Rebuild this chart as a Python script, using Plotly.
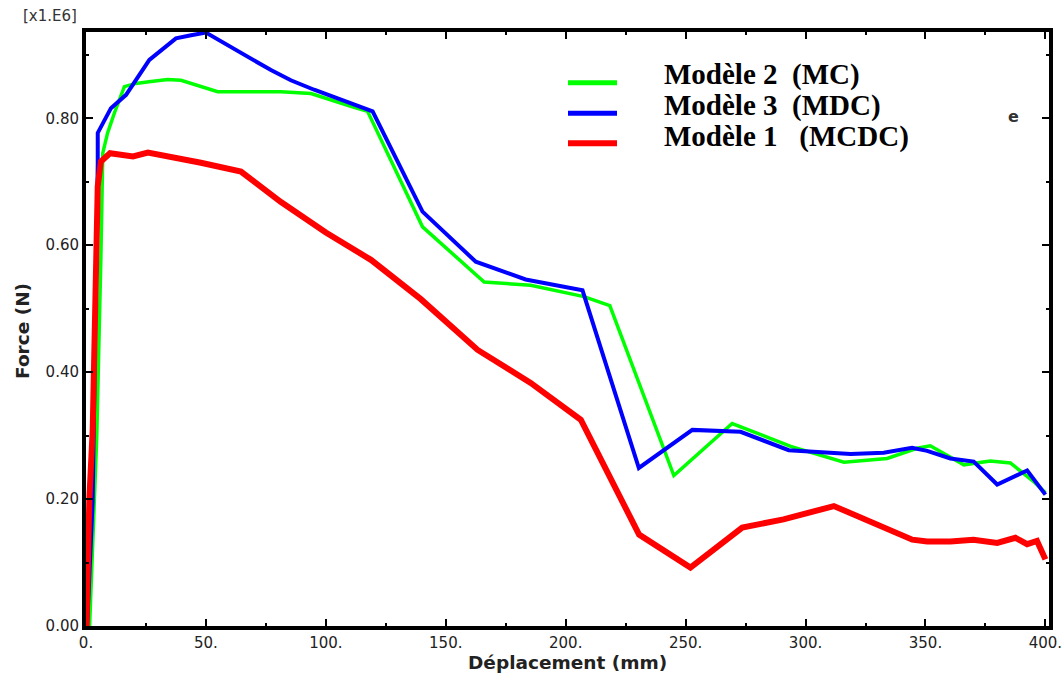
import plotly.graph_objects as go

# Force-displacement curves (force in units of 1e6 N)
green_name = "Modèle 2  (MC)"
green_x = [1.5, 4.5, 6.2, 7.0, 9.0, 11.8, 16.0, 20.8, 27.1, 34.0, 39.6, 54.9, 81.3, 93.8,
           110.4, 117.4, 140.3, 147.2, 166.0, 185.4, 207.6, 218.4, 245.1, 269.4, 293.8,
           316.0, 334.0, 346.5, 352.0, 366.0, 377.0, 385.4, 395.0, 400.0]
green_y = [0.0, 0.3, 0.58, 0.745, 0.777, 0.808, 0.85, 0.855, 0.858, 0.861, 0.86, 0.842, 0.842,
           0.839, 0.819, 0.811, 0.629, 0.606, 0.542, 0.537, 0.519, 0.505, 0.237, 0.319, 0.283,
           0.258, 0.264, 0.28, 0.284, 0.254, 0.26, 0.257, 0.228, 0.21]

blue_name = "Modèle 3  (MDC)"
blue_x = [0.5, 2.8, 4.9, 4.9, 10.4, 16.7, 26.4, 37.5, 43.8, 50.0, 77.1, 85.4, 95.1, 110.4,
          119.5, 140.3, 150.0, 162.5, 183.3, 207.0, 230.5, 252.8, 272.9, 293.0, 318.8, 332.6,
          344.4, 350.7, 360.4, 370.1, 379.9, 392.4, 400.0]
blue_y = [0.0, 0.2, 0.73, 0.777, 0.816, 0.837, 0.892, 0.926, 0.931, 0.935, 0.876, 0.86, 0.845,
          0.823, 0.811, 0.653, 0.619, 0.574, 0.546, 0.529, 0.249, 0.309, 0.306, 0.277, 0.271,
          0.273, 0.281, 0.276, 0.264, 0.259, 0.223, 0.245, 0.207]

red_name = "Modèle 1   (MCDC)"
red_x = [0.2, 1.4, 2.8, 3.5, 4.2, 4.4, 4.9, 6.2, 10.0, 19.6, 25.8, 47.9, 64.6, 81.3, 100.0,
         118.8, 139.6, 163.3, 185.4, 206.3, 230.6, 252.0, 273.6, 290.8, 311.8, 344.5, 350.7,
         360.4, 370.0, 379.9, 387.5, 392.4, 396.5, 400.0]
red_y = [0.0, 0.2, 0.31, 0.42, 0.52, 0.61, 0.693, 0.732, 0.745, 0.74, 0.746, 0.73, 0.716, 0.668,
         0.62, 0.577, 0.515, 0.435, 0.383, 0.325, 0.144, 0.092, 0.155, 0.168, 0.189, 0.136,
         0.133, 0.133, 0.136, 0.131, 0.139, 0.129, 0.134, 0.105]

x_ticks = [0, 50, 100, 150, 200, 250, 300, 350, 400]
x_ticktext = ["0.", "50.", "100.", "150.", "200.", "250.", "300.", "350.", "400."]
x_minor = [25, 75, 125, 175, 225, 275, 325, 375]
y_ticks = [0.0, 0.2, 0.4, 0.6, 0.8]
y_ticktext = ["0.00", "0.20", "0.40", "0.60", "0.80"]
y_minor = [0.1, 0.3, 0.5, 0.7, 0.9]

series = [
    (green_name, green_x, green_y, "#00FF00", 3.5),
    (blue_name, blue_x, blue_y, "#0000FF", 4),
    (red_name, red_x, red_y, "#FF0000", 6),
]

fig = go.Figure()
for name, xs, ys, color, width in series:
    fig.add_trace(go.Scatter(x=xs, y=ys, mode="lines", name=name,
                             line=dict(color=color, width=width), showlegend=False))

tick_font = dict(family="DejaVu Sans", size=15, color="#222222")
axis_common = dict(
    showline=True, linecolor="black", linewidth=4, mirror="allticks",
    ticks="inside", ticklen=7, tickwidth=2, tickcolor="black",
    showgrid=False, zeroline=False, tickfont=tick_font, automargin=False,
)

fig.update_xaxes(range=[0, 401.5], tickmode="array", tickvals=x_ticks, ticktext=x_ticktext,
                 minor=dict(ticks="inside", ticklen=3, tickwidth=2, tickcolor="black",
                            tickmode="array", tickvals=x_minor, showgrid=False),
                 **axis_common)
fig.update_yaxes(range=[0, 0.936], tickmode="array", tickvals=y_ticks, ticktext=y_ticktext,
                 minor=dict(ticks="inside", ticklen=3, tickwidth=2, tickcolor="black",
                            tickmode="array", tickvals=y_minor, showgrid=False),
                 **axis_common)

# Hand-placed legend: sample lines + bold serif labels
L, R, T, B = 86, 14, 32, 49
W, H = 1063, 675
pw, ph = W - L - R, H - T - B


def px(xp):
    return (xp - L) / pw


def py(yp):
    return (H - B - yp) / ph


shapes = []
annotations = []
legend_rows = [(82.7, 74), (113.3, 105), (143.3, 136)]
for (name, xs, ys, color, width), (line_y, text_y) in zip(series, legend_rows):
    lw = 6 if color == "#FF0000" else 5
    shapes.append(dict(type="line", xref="paper", yref="paper",
                       x0=px(568), x1=px(617), y0=py(line_y), y1=py(line_y),
                       line=dict(color=color, width=lw)))
    annotations.append(dict(text=f"<b>{name}</b>", xref="paper", yref="paper",
                            x=px(662), y=py(text_y), xanchor="left", yanchor="middle",
                            showarrow=False,
                            font=dict(family="Liberation Serif", size=29, color="black")))

annotations += [
    dict(text="[x1.E6]", xref="paper", yref="paper", x=px(49.5), y=py(16.5),
         xanchor="center", yanchor="middle", showarrow=False,
         font=dict(family="DejaVu Sans", size=15, color="#333333")),
    dict(text="<b>Force (N)</b>", xref="paper", yref="paper", x=px(22), y=py(331),
         xanchor="center", yanchor="middle", textangle=-90, showarrow=False,
         font=dict(family="DejaVu Sans", size=18.5, color="#222222")),
    dict(text="<b>Déplacement (mm)</b>", xref="paper", yref="paper", x=px(567), y=py(662),
         xanchor="center", yanchor="middle", showarrow=False,
         font=dict(family="DejaVu Sans", size=18.5, color="#222222")),
    dict(text="<b>e</b>", xref="paper", yref="paper", x=px(1013.5), y=py(117),
         xanchor="center", yanchor="middle", showarrow=False,
         font=dict(family="DejaVu Sans", size=16, color="#333333")),
]

fig.update_layout(
    width=W, height=H,
    margin=dict(l=L, r=R, t=T, b=B, autoexpand=False),
    plot_bgcolor="white", paper_bgcolor="white",
    shapes=shapes, annotations=annotations,
    showlegend=False,
)

fig.write_html("out.html")
